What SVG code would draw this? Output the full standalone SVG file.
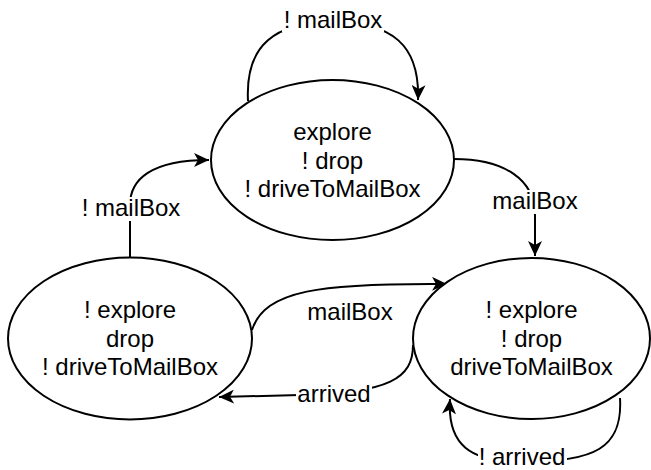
<svg xmlns="http://www.w3.org/2000/svg" width="651" height="470" viewBox="0 0 651 470">
<style>
  .node ellipse { fill: #ffffff; stroke: #000000; stroke-width: 2; }
  .node text, .lbl text { font-family: "Liberation Sans", Arial, sans-serif; font-size: 24px; fill: #000000; text-anchor: middle; }
  .edge { fill: none; stroke: #000000; stroke-width: 2; marker-end: url(#arr); }
  .lbl rect { fill: #ffffff; stroke: none; }
</style>
<defs>
  <marker id="arr" markerUnits="userSpaceOnUse" markerWidth="16" markerHeight="14" refX="15" refY="7" orient="auto">
    <path d="M0,0 L15,7 L0,14 L4,7 Z" fill="#000000"/>
  </marker>
</defs>
<rect width="651" height="470" fill="#ffffff"/>
<g id="connectors">
  <path class="edge" d="M248 101 C245 45 275 22 333 22 C392 22 420 45 418 100"/>
  <path class="edge" d="M454 159 C505 159 535 180 535 215 L535 256"/>
  <path class="edge" d="M130 257 L130 205 C130 180 150 160 209 160"/>
  <path class="edge" d="M252 330 C265 290 320 283 447 284"/>
  <path class="edge" d="M413 345 C413 378 390 393 300 395 L219 397"/>
  <path class="edge" d="M620 398 C623 448 595 462 522 462 C470 462 447 445 450 399"/>
</g>
<g id="node-explore" class="node">
  <ellipse cx="332.5" cy="160" rx="121.5" ry="80"/>
  <text x="332.5" y="140">explore</text>
  <text x="332.5" y="168.5">! drop</text>
  <text x="332.5" y="197">! driveToMailBox</text>
</g>
<g id="node-drop" class="node">
  <ellipse cx="130" cy="338.5" rx="122" ry="81"/>
  <text x="130" y="318">! explore</text>
  <text x="130" y="347">drop</text>
  <text x="130" y="375">! driveToMailBox</text>
</g>
<g id="node-drive" class="node">
  <ellipse cx="531.5" cy="338.5" rx="118.5" ry="80.5"/>
  <text x="531.5" y="318">! explore</text>
  <text x="531.5" y="347">! drop</text>
  <text x="531.5" y="375">driveToMailBox</text>
</g>
<g id="edge-labels" class="lbl">
  <rect x="282" y="9" width="102" height="23"/>
  <text x="333" y="28">! mailBox</text>
  <rect x="496" y="190" width="78" height="24"/>
  <text x="535" y="209">mailBox</text>
  <rect x="80" y="197" width="102" height="24"/>
  <text x="131" y="216">! mailBox</text>
  <text x="350" y="320">mailBox</text>
  <rect x="296" y="383" width="76" height="24"/>
  <text x="334" y="402">arrived</text>
  <rect x="478" y="448" width="89" height="22"/>
  <text x="522" y="465">! arrived</text>
</g>
</svg>
